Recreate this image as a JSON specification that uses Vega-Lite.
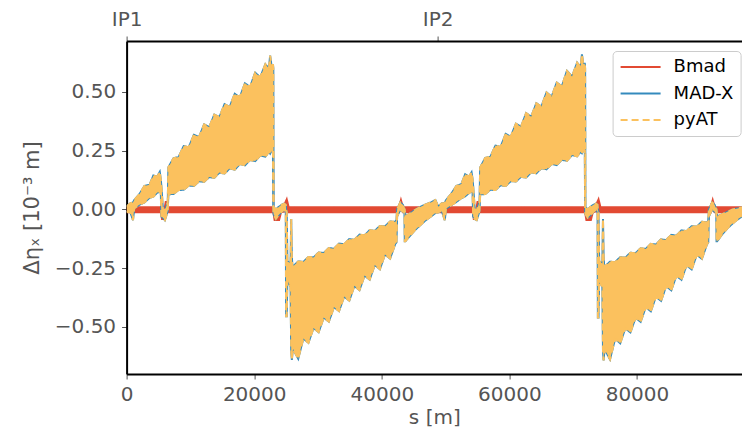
{
  "$schema": "https://vega.github.io/schema/vega-lite/v6.json",
  "width": 615.4,
  "height": 333,
  "autosize": "none",
  "padding": {"left": 126.6, "top": 41, "right": 0, "bottom": 58},
  "background": "white",
  "config": {
    "view": {"stroke": null}, "font": "DejaVu Sans",
    "axis": {"grid": false, "labelFontSize": 20, "labelColor": "#555555", "tickColor": "#555555", "tickSize": 5, "tickWidth": 1,
      "domainColor": "black", "domainWidth": 2, "titleFontSize": 20, "titleColor": "#555555", "titleFontWeight": "normal"},
    "axisY": {"labelPadding": 6, "titlePadding": 12, "titleFontSize": 21},
    "legend": {"symbolType": "stroke", "symbolSize": 1600, "symbolStrokeWidth": 2, "clipHeight": 18,
      "labelFontSize": 18, "labelColor": "black", "labelFont": "DejaVu Sans", "labelOffset": 12, "rowPadding": 8.5,
      "fillColor": "white", "strokeColor": "#cccccc", "cornerRadius": 4, "padding": 7}
  },
  "datasets": {
    "ip": [{"s": 0, "name": "IP1"}, {"s": 48750, "name": "IP2"}],
    "bmad": [
      {"s": 0, "lo": -0.012, "hi": 0.01}, {"s": 5400, "lo": -0.012, "hi": 0.01},
      {"s": 5550, "lo": -0.04, "hi": -0.005}, {"s": 5900, "lo": -0.04, "hi": -0.005},
      {"s": 6150, "lo": -0.005, "hi": 0.035}, {"s": 6400, "lo": -0.012, "hi": 0.01},
      {"s": 23000, "lo": -0.012, "hi": 0.01}, {"s": 23200, "lo": -0.045, "hi": -0.008},
      {"s": 23900, "lo": -0.045, "hi": -0.008}, {"s": 24200, "lo": -0.012, "hi": 0.01},
      {"s": 24800, "lo": -0.008, "hi": 0.025}, {"s": 25100, "lo": 0.005, "hi": 0.043},
      {"s": 25400, "lo": -0.012, "hi": 0.01}, {"s": 42700, "lo": -0.012, "hi": 0.01},
      {"s": 43000, "lo": 0.005, "hi": 0.04}, {"s": 43300, "lo": -0.012, "hi": 0.01},
      {"s": 54270, "lo": -0.012, "hi": 0.01}, {"s": 54420, "lo": -0.04, "hi": -0.005},
      {"s": 54770, "lo": -0.04, "hi": -0.005}, {"s": 55020, "lo": -0.005, "hi": 0.035},
      {"s": 55270, "lo": -0.012, "hi": 0.01}, {"s": 71870, "lo": -0.012, "hi": 0.01},
      {"s": 72070, "lo": -0.045, "hi": -0.008}, {"s": 72770, "lo": -0.045, "hi": -0.008},
      {"s": 73070, "lo": -0.012, "hi": 0.01}, {"s": 73670, "lo": -0.008, "hi": 0.025},
      {"s": 73970, "lo": 0.005, "hi": 0.043}, {"s": 74270, "lo": -0.012, "hi": 0.01},
      {"s": 91570, "lo": -0.012, "hi": 0.01}, {"s": 91870, "lo": 0.005, "hi": 0.04},
      {"s": 92170, "lo": -0.012, "hi": 0.01}, {"s": 96600, "lo": -0.012, "hi": 0.01}
    ],
    "band": [
      {"s": 0, "lo": -0.012, "hi": 0.012}, {"s": 500, "lo": -0.005, "hi": 0.025},
      {"s": 1000, "lo": -0.045, "hi": 0.03}, {"s": 1200, "lo": 0.005, "hi": 0.04},
      {"s": 2000, "lo": 0.02, "hi": 0.065}, {"s": 2800, "lo": 0.03, "hi": 0.1},
      {"s": 3600, "lo": 0.05, "hi": 0.105}, {"s": 4200, "lo": 0.055, "hi": 0.145},
      {"s": 4800, "lo": 0.072, "hi": 0.14}, {"s": 5200, "lo": 0.075, "hi": 0.16},
      {"s": 5350, "lo": 0.08, "hi": 0.13}, {"s": 5450, "lo": -0.03, "hi": 0.1},
      {"s": 5700, "lo": -0.035, "hi": 0.0}, {"s": 6000, "lo": -0.045, "hi": -0.005},
      {"s": 6300, "lo": -0.02, "hi": 0.02}, {"s": 6450, "lo": -0.005, "hi": 0.03},
      {"s": 6550, "lo": 0.065, "hi": 0.18}, {"s": 7350, "lo": 0.066, "hi": 0.218},
      {"s": 8150, "lo": 0.083, "hi": 0.223}, {"s": 8950, "lo": 0.084, "hi": 0.27},
      {"s": 9750, "lo": 0.102, "hi": 0.265}, {"s": 10550, "lo": 0.1, "hi": 0.318},
      {"s": 11350, "lo": 0.12, "hi": 0.308}, {"s": 12150, "lo": 0.118, "hi": 0.362},
      {"s": 12950, "lo": 0.138, "hi": 0.35}, {"s": 13750, "lo": 0.135, "hi": 0.404},
      {"s": 14550, "lo": 0.157, "hi": 0.393}, {"s": 15350, "lo": 0.153, "hi": 0.448},
      {"s": 16150, "lo": 0.175, "hi": 0.436}, {"s": 16950, "lo": 0.17, "hi": 0.492},
      {"s": 17750, "lo": 0.193, "hi": 0.478}, {"s": 18550, "lo": 0.188, "hi": 0.537},
      {"s": 19350, "lo": 0.211, "hi": 0.521}, {"s": 20150, "lo": 0.206, "hi": 0.582},
      {"s": 20950, "lo": 0.23, "hi": 0.563}, {"s": 21750, "lo": 0.225, "hi": 0.618},
      {"s": 22300, "lo": 0.245, "hi": 0.6}, {"s": 22500, "lo": 0.238, "hi": 0.655},
      {"s": 22700, "lo": 0.25, "hi": 0.615}, {"s": 22950, "lo": 0.245, "hi": 0.615},
      {"s": 23000, "lo": -0.01, "hi": 0.6}, {"s": 23050, "lo": -0.02, "hi": 0.01},
      {"s": 23400, "lo": -0.04, "hi": 0.0}, {"s": 23800, "lo": -0.025, "hi": 0.01},
      {"s": 24300, "lo": -0.01, "hi": 0.02}, {"s": 24700, "lo": 0.0, "hi": 0.025},
      {"s": 24950, "lo": -0.01, "hi": 0.02}, {"s": 25000, "lo": -0.454, "hi": 0.0},
      {"s": 25100, "lo": -0.454, "hi": -0.01}, {"s": 25200, "lo": -0.3, "hi": -0.22},
      {"s": 25700, "lo": -0.33, "hi": -0.23}, {"s": 25800, "lo": -0.6, "hi": -0.04},
      {"s": 25900, "lo": -0.64, "hi": -0.2}, {"s": 26000, "lo": -0.61, "hi": -0.245},
      {"s": 26100, "lo": -0.594, "hi": -0.242}, {"s": 26900, "lo": -0.635, "hi": -0.221},
      {"s": 27700, "lo": -0.549, "hi": -0.223}, {"s": 28500, "lo": -0.567, "hi": -0.202},
      {"s": 29300, "lo": -0.504, "hi": -0.204}, {"s": 30100, "lo": -0.522, "hi": -0.183},
      {"s": 30900, "lo": -0.46, "hi": -0.185}, {"s": 31700, "lo": -0.477, "hi": -0.164},
      {"s": 32500, "lo": -0.415, "hi": -0.167}, {"s": 33300, "lo": -0.432, "hi": -0.145},
      {"s": 34100, "lo": -0.37, "hi": -0.148}, {"s": 34900, "lo": -0.388, "hi": -0.126},
      {"s": 35700, "lo": -0.325, "hi": -0.129}, {"s": 36500, "lo": -0.343, "hi": -0.107},
      {"s": 37300, "lo": -0.281, "hi": -0.11}, {"s": 38100, "lo": -0.298, "hi": -0.088},
      {"s": 38900, "lo": -0.236, "hi": -0.091}, {"s": 39700, "lo": -0.254, "hi": -0.07},
      {"s": 40500, "lo": -0.191, "hi": -0.072}, {"s": 41300, "lo": -0.209, "hi": -0.051},
      {"s": 42100, "lo": -0.147, "hi": -0.053}, {"s": 42300, "lo": -0.14, "hi": -0.045},
      {"s": 42400, "lo": -0.03, "hi": 0.0}, {"s": 42900, "lo": 0.0, "hi": 0.03},
      {"s": 43300, "lo": -0.01, "hi": 0.02}, {"s": 43550, "lo": -0.01, "hi": 0.0},
      {"s": 43600, "lo": -0.135, "hi": 0.0}, {"s": 43700, "lo": -0.135, "hi": -0.03},
      {"s": 44500, "lo": -0.11, "hi": -0.015}, {"s": 45300, "lo": -0.085, "hi": 0.0},
      {"s": 46100, "lo": -0.065, "hi": 0.012}, {"s": 46900, "lo": -0.045, "hi": 0.022},
      {"s": 47700, "lo": -0.03, "hi": 0.03}, {"s": 48400, "lo": -0.015, "hi": 0.04},
      {"s": 48870, "lo": -0.012, "hi": 0.012}, {"s": 49370, "lo": -0.004, "hi": 0.026},
      {"s": 49870, "lo": -0.045, "hi": 0.028}, {"s": 50070, "lo": 0.004, "hi": 0.04},
      {"s": 50870, "lo": 0.018, "hi": 0.066}, {"s": 51670, "lo": 0.032, "hi": 0.1},
      {"s": 52470, "lo": 0.048, "hi": 0.108}, {"s": 53070, "lo": 0.056, "hi": 0.15},
      {"s": 53670, "lo": 0.07, "hi": 0.14}, {"s": 54070, "lo": 0.077, "hi": 0.158},
      {"s": 54220, "lo": 0.08, "hi": 0.13}, {"s": 54320, "lo": -0.03, "hi": 0.1},
      {"s": 54570, "lo": -0.04, "hi": 0.0}, {"s": 54870, "lo": -0.045, "hi": -0.005},
      {"s": 55170, "lo": -0.02, "hi": 0.02}, {"s": 55320, "lo": -0.005, "hi": 0.03},
      {"s": 55420, "lo": 0.064, "hi": 0.179}, {"s": 56220, "lo": 0.066, "hi": 0.22},
      {"s": 57020, "lo": 0.084, "hi": 0.224}, {"s": 57820, "lo": 0.083, "hi": 0.272},
      {"s": 58620, "lo": 0.103, "hi": 0.266}, {"s": 59420, "lo": 0.1, "hi": 0.322},
      {"s": 60220, "lo": 0.121, "hi": 0.31}, {"s": 61020, "lo": 0.119, "hi": 0.365},
      {"s": 61820, "lo": 0.139, "hi": 0.352}, {"s": 62620, "lo": 0.136, "hi": 0.41},
      {"s": 63420, "lo": 0.158, "hi": 0.395}, {"s": 64220, "lo": 0.154, "hi": 0.452},
      {"s": 65020, "lo": 0.176, "hi": 0.438}, {"s": 65820, "lo": 0.171, "hi": 0.498},
      {"s": 66620, "lo": 0.194, "hi": 0.48}, {"s": 67420, "lo": 0.189, "hi": 0.54},
      {"s": 68220, "lo": 0.212, "hi": 0.524}, {"s": 69020, "lo": 0.207, "hi": 0.59},
      {"s": 69820, "lo": 0.232, "hi": 0.566}, {"s": 70620, "lo": 0.226, "hi": 0.625},
      {"s": 71170, "lo": 0.246, "hi": 0.605}, {"s": 71370, "lo": 0.24, "hi": 0.66},
      {"s": 71570, "lo": 0.252, "hi": 0.62}, {"s": 71820, "lo": 0.25, "hi": 0.62},
      {"s": 71870, "lo": -0.01, "hi": 0.6}, {"s": 71920, "lo": -0.02, "hi": 0.01},
      {"s": 72270, "lo": -0.035, "hi": 0.0}, {"s": 72670, "lo": -0.025, "hi": 0.01},
      {"s": 73170, "lo": -0.01, "hi": 0.02}, {"s": 73570, "lo": 0.0, "hi": 0.025},
      {"s": 73820, "lo": -0.01, "hi": 0.02}, {"s": 73870, "lo": -0.46, "hi": 0.0},
      {"s": 73970, "lo": -0.46, "hi": -0.01}, {"s": 74070, "lo": -0.3, "hi": -0.22},
      {"s": 74570, "lo": -0.33, "hi": -0.23}, {"s": 74670, "lo": -0.6, "hi": -0.04},
      {"s": 74770, "lo": -0.642, "hi": -0.2}, {"s": 74870, "lo": -0.61, "hi": -0.245},
      {"s": 74970, "lo": -0.596, "hi": -0.243}, {"s": 75770, "lo": -0.638, "hi": -0.222},
      {"s": 76570, "lo": -0.55, "hi": -0.224}, {"s": 77370, "lo": -0.569, "hi": -0.203},
      {"s": 78170, "lo": -0.505, "hi": -0.205}, {"s": 78970, "lo": -0.523, "hi": -0.184},
      {"s": 79770, "lo": -0.461, "hi": -0.186}, {"s": 80570, "lo": -0.478, "hi": -0.165},
      {"s": 81370, "lo": -0.416, "hi": -0.168}, {"s": 82170, "lo": -0.433, "hi": -0.146},
      {"s": 82970, "lo": -0.371, "hi": -0.149}, {"s": 83770, "lo": -0.389, "hi": -0.127},
      {"s": 84570, "lo": -0.326, "hi": -0.13}, {"s": 85370, "lo": -0.344, "hi": -0.108},
      {"s": 86170, "lo": -0.282, "hi": -0.111}, {"s": 86970, "lo": -0.299, "hi": -0.089},
      {"s": 87770, "lo": -0.237, "hi": -0.092}, {"s": 88570, "lo": -0.255, "hi": -0.071},
      {"s": 89370, "lo": -0.192, "hi": -0.073}, {"s": 90170, "lo": -0.21, "hi": -0.052},
      {"s": 90970, "lo": -0.148, "hi": -0.055}, {"s": 91170, "lo": -0.14, "hi": -0.05},
      {"s": 91270, "lo": -0.03, "hi": 0.0}, {"s": 91770, "lo": 0.0, "hi": 0.03},
      {"s": 92170, "lo": -0.01, "hi": 0.02}, {"s": 92420, "lo": -0.01, "hi": 0.0},
      {"s": 92470, "lo": -0.135, "hi": 0.0}, {"s": 92570, "lo": -0.135, "hi": -0.03},
      {"s": 93370, "lo": -0.105, "hi": -0.02}, {"s": 94170, "lo": -0.08, "hi": -0.01},
      {"s": 94970, "lo": -0.06, "hi": 0.0}, {"s": 95770, "lo": -0.042, "hi": 0.004},
      {"s": 96570, "lo": -0.028, "hi": 0.01}
    ]
  },
  "layer": [
    {
      "data": {"name": "bmad"},
      "mark": {"type": "area", "clip": true},
      "encoding": {
        "x": {"field": "s", "type": "quantitative",
          "scale": {"domain": [0, 96460], "nice": false, "zero": false},
          "axis": {"orient": "bottom", "values": [0, 20000, 40000, 60000, 80000], "format": "d",
            "title": "s [m]", "titlePadding": 3, "labelPadding": 5, "labelFlush": false}},
        "y": {"field": "lo", "type": "quantitative",
          "scale": {"domain": [-0.7, 0.717], "nice": false, "zero": false},
          "axis": {"values": [-0.5, -0.25, 0, 0.25, 0.5], "format": ".2f", "title": "Δηₓ [10⁻³ m]"}},
        "y2": {"field": "hi"},
        "color": {"datum": "Bmad",
          "scale": {"domain": ["Bmad", "MAD-X", "pyAT"], "range": ["#E24A33", "#348ABD", "#FBC15E"]},
          "legend": {"title": null, "orient": "none", "legendX": 486, "legendY": 10}}
      }
    },
    {
      "data": {"name": "bmad"},
      "mark": {"type": "line", "strokeWidth": 2, "clip": true},
      "encoding": {
        "x": {"field": "s", "type": "quantitative", "scale": {"domain": [0, 96460], "nice": false, "zero": false}, "axis": null},
        "y": {"field": "hi", "type": "quantitative", "scale": {"domain": [-0.7, 0.717], "nice": false, "zero": false},
          "axis": {"values": [-0.5, -0.25, 0, 0.25, 0.5], "format": ".2f", "title": "Δηₓ [10⁻³ m]"}},
        "color": {"datum": "Bmad"},
        "strokeDash": {"datum": "Bmad",
          "scale": {"domain": ["Bmad", "MAD-X", "pyAT"], "range": [[1, 0], [1, 0], [7, 4]]},
          "legend": {"title": null, "orient": "none", "legendX": 486, "legendY": 10}}
      }
    },
    {
      "data": {"name": "bmad"},
      "mark": {"type": "line", "strokeWidth": 2, "clip": true},
      "encoding": {
        "x": {"field": "s", "type": "quantitative", "scale": {"domain": [0, 96460], "nice": false, "zero": false}, "axis": null},
        "y": {"field": "lo", "type": "quantitative", "scale": {"domain": [-0.7, 0.717], "nice": false, "zero": false},
          "axis": {"values": [-0.5, -0.25, 0, 0.25, 0.5], "format": ".2f", "title": "Δηₓ [10⁻³ m]"}},
        "color": {"datum": "Bmad"},
        "strokeDash": {"datum": "Bmad"}
      }
    },
    {
      "data": {"name": "band"},
      "mark": {"type": "line", "strokeWidth": 2, "clip": true},
      "encoding": {
        "x": {"field": "s", "type": "quantitative", "scale": {"domain": [0, 96460], "nice": false, "zero": false}, "axis": null},
        "y": {"field": "hi", "type": "quantitative", "scale": {"domain": [-0.7, 0.717], "nice": false, "zero": false},
          "axis": {"values": [-0.5, -0.25, 0, 0.25, 0.5], "format": ".2f", "title": "Δηₓ [10⁻³ m]"}},
        "color": {"datum": "MAD-X"},
        "strokeDash": {"datum": "MAD-X"}
      }
    },
    {
      "data": {"name": "band"},
      "mark": {"type": "line", "strokeWidth": 2, "clip": true},
      "encoding": {
        "x": {"field": "s", "type": "quantitative", "scale": {"domain": [0, 96460], "nice": false, "zero": false}, "axis": null},
        "y": {"field": "lo", "type": "quantitative", "scale": {"domain": [-0.7, 0.717], "nice": false, "zero": false},
          "axis": {"values": [-0.5, -0.25, 0, 0.25, 0.5], "format": ".2f", "title": "Δηₓ [10⁻³ m]"}},
        "color": {"datum": "MAD-X"},
        "strokeDash": {"datum": "MAD-X"}
      }
    },
    {
      "data": {"name": "band"},
      "mark": {"type": "area", "clip": true},
      "encoding": {
        "x": {"field": "s", "type": "quantitative", "scale": {"domain": [0, 96460], "nice": false, "zero": false}, "axis": null},
        "y": {"field": "lo", "type": "quantitative", "scale": {"domain": [-0.7, 0.717], "nice": false, "zero": false},
          "axis": {"values": [-0.5, -0.25, 0, 0.25, 0.5], "format": ".2f", "title": "Δηₓ [10⁻³ m]"}},
        "y2": {"field": "hi"},
        "color": {"datum": "pyAT"}
      }
    },
    {
      "data": {"name": "band"},
      "mark": {"type": "line", "strokeWidth": 2, "clip": true},
      "encoding": {
        "x": {"field": "s", "type": "quantitative", "scale": {"domain": [0, 96460], "nice": false, "zero": false}, "axis": null},
        "y": {"field": "hi", "type": "quantitative", "scale": {"domain": [-0.7, 0.717], "nice": false, "zero": false},
          "axis": {"values": [-0.5, -0.25, 0, 0.25, 0.5], "format": ".2f", "title": "Δηₓ [10⁻³ m]"}},
        "color": {"datum": "pyAT"},
        "strokeDash": {"datum": "pyAT"}
      }
    },
    {
      "data": {"name": "band"},
      "mark": {"type": "line", "strokeWidth": 2, "clip": true},
      "encoding": {
        "x": {"field": "s", "type": "quantitative", "scale": {"domain": [0, 96460], "nice": false, "zero": false}, "axis": null},
        "y": {"field": "lo", "type": "quantitative", "scale": {"domain": [-0.7, 0.717], "nice": false, "zero": false},
          "axis": {"values": [-0.5, -0.25, 0, 0.25, 0.5], "format": ".2f", "title": "Δηₓ [10⁻³ m]"}},
        "color": {"datum": "pyAT"},
        "strokeDash": {"datum": "pyAT"}
      }
    },
    {
      "data": {"name": "ip"},
      "mark": {"type": "point", "opacity": 0},
      "encoding": {
        "x": {"field": "s", "type": "quantitative",
          "scale": {"domain": [0, 96460], "nice": false, "zero": false},
          "axis": {"orient": "top", "values": [0, 48750], "labelExpr": "datum.value < 1000 ? 'IP1' : 'IP2'",
            "title": null, "labelPadding": 7, "labelFlush": false}}
      }
    }
  ],
  "resolve": {"axis": {"x": "independent"}}
}
